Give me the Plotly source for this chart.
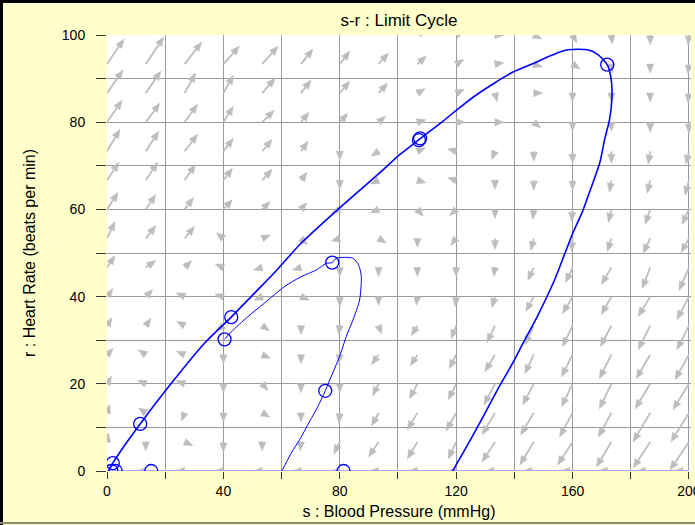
import math
import plotly.graph_objects as go

# ---------------- data ----------------
S_GRID = [0, 13.33, 26.67, 40, 53.33, 66.67, 80, 93.33, 106.67, 120, 133.33, 146.67, 160, 173.33, 186.67, 200]
R_GRID = [100, 93.33, 86.67, 80, 73.33, 66.67, 60, 53.33, 46.67, 40, 33.33, 26.67, 20, 13.33, 6.67, 0]

# direction field (screen components, right / up), rows follow R_GRID, columns follow S_GRID
FIELD_U = [
    [17, 18, 17, 16, 16, 12, 10, 9, 8, 6, 7, 6, 4, 1, 0, -1],
    [17, 18, 17, 16, 16, 12, 10, 10, 9, 7, 7, 6, 6, 1, 0, -1],
    [16, 15, 11, 10, 13, 10, 10, 9, 7, 7, 2, 8, 0, 0, 0, -1],
    [15, 14, 13, 10, 12, 8, 8, 7, 7, 7, 8, 6, 0, 0, 0, 0],
    [13, 13, 13, 10, 10, 7, 0, -6, 7, -7, -3, 0, 0, 0, -2, -3],
    [12, 12, 11, 9, 10, 6, 0, -7, 7, -7, 0, 0, 0, -2, -3, -4],
    [11, 10, 9, 9, 8, 5, -7, -7, 5, -5, 0, -1, -1, -3, -5, -7],
    [8, 10, 10, -6, 7, 5, -7, 7, 0, -5, 0, -3, -1, -4, -7, -8],
    [8, 10, 7, -7, -7, -7, 0, 0, 0, 0, -1, -6, -7, -10, -8, -10],
    [6, 7, -7, -7, -7, 7, 0, 0, -1, -1, -3, -8, -10, -10, -12, -12],
    [5, 5, -7, -6, 7, 0, -1, 3, -6, -5, -8, -9, -10, -11, -12, -12],
    [5, -6, -7, 0, 7, 0, -1, -7, -7, -7, -10, -9, -11, -12, -14, -14],
    [3, -7, -8, 0, 5, 0, 0, -6, -8, -8, -11, -11, -11, -12, -15, -16],
    [2, -6, -3, 0, 7, 0, -1, -7, -10, -10, -13, -13, -13, -13, -17, -18],
    [1, 0, 7, 0, 0, -1, -6, -10, -10, -8, -13, -14, -15, -15, -17, -19],
    [-3, -4, -5, -5, -6, -6, -6, -7, -8, -9, -10, -11, -12, -13, -14, -15],
]
FIELD_V = [
    [25, 27, 22, 18, 18, 15, 13, 11, 7, 3, 0, -3, -7, -9, -10, -10],
    [25, 27, 22, 18, 18, 15, 13, 11, 8, 4, 1, -2, -4, -8, -9, -10],
    [23, 22, 20, 18, 15, 13, 12, 10, 4, 3, -8, 0, -8, -9, -9, -10],
    [22, 19, 18, 16, 12, 10, 9, 6, 2, 0, 0, -5, -8, -9, -10, -11],
    [22, 20, 17, 13, 12, 10, -8, -4, 3, 2, -8, -10, -12, -12, -13, -13],
    [18, 18, 16, 12, 11, 8, -8, -3, -2, 2, -8, -10, -10, -12, -13, -15],
    [17, 15, 12, 10, 8, 6, -3, -3, -6, -5, -8, -10, -12, -13, -15, -15],
    [17, 13, 12, 5, 3, -5, -2, -4, -8, -6, -11, -12, -13, -13, -15, -14],
    [12, 7, 7, 3, -2, -2, -8, -8, -8, -8, -9, -13, -15, -17, -21, -23],
    [8, 7, 3, 2, -3, -3, -10, -8, -8, -10, -11, -15, -17, -18, -20, -23],
    [8, 7, 4, -4, -5, -8, -8, -8, -10, -13, -17, -19, -21, -21, -24, -24],
    [5, 4, 3, -8, -3, -9, -8, -10, -11, -14, -17, -19, -22, -24, -24, -25],
    [5, 3, 3, -8, -6, -9, -9, -12, -15, -16, -21, -21, -23, -25, -25, -26],
    [6, 4, -8, -9, -4, -8, -10, -13, -17, -18, -22, -22, -24, -24, -29, -29],
    [7, -8, -3, -10, -9, -9, -12, -15, -17, -17, -20, -23, -23, -25, -26, -28],
    [0, 0, 0, 0, 0, 0, 0, 0, 0, 0, 0, 0, 0, 0, 0, 0],
]

OUTER_S = [0.5, 2.0, 6.5, 11.4, 22.1, 33.5, 42.7, 50.7, 58.0, 66.2, 79.9, 93.6, 100.5, 107.4, 115.4, 121.1,
           127.0, 133.2, 139.5, 146.9, 153.0, 158.4, 165.2, 168.7, 171.9, 173.3, 173.5, 172.7, 171.0, 169.4,
           166.6, 163.4, 160.1, 157.3, 153.8, 148.0, 143.5, 139.3, 134.0, 128.0, 122.9, 119.1, 118.8]
OUTER_R = [0.0, 1.8, 6.3, 10.8, 20.1, 29.3, 35.3, 40.8, 45.8, 51.9, 60.3, 68.3, 72.5, 76.1, 80.2, 83.3,
           86.3, 89.0, 91.5, 93.6, 95.4, 96.6, 96.6, 95.5, 93.2, 89.7, 85.2, 80.6, 76.0, 70.8,
           65.4, 59.5, 54.6, 49.8, 43.8, 35.6, 30.0, 24.6, 18.4, 10.9, 4.8, 0.4, 0.0]
OUTER_MARK_S = [2.0, 11.4, 42.7, 107.2, 107.6, 171.9]
OUTER_MARK_R = [1.8, 10.8, 35.3, 75.9, 76.3, 93.2]

INNER_S = [40.4, 42.7, 48.4, 54.1, 61.0, 66.5, 71.9, 75.3, 77.4, 78.8, 84.5, 86.5, 87.4, 86.8, 84.5,
           82.2, 79.9, 77.0, 75.0, 72.4, 69.0, 66.5, 63.3, 60.4, 60.0]
INNER_R = [30.2, 31.9, 35.4, 38.5, 42.3, 44.5, 46.1, 47.6, 47.8, 48.8, 48.8, 47.2, 44.6, 39.2, 34.6,
           30.8, 26.2, 21.6, 18.4, 14.7, 10.6, 7.5, 4.1, 0.4, 0.0]
INNER_MARK_S = [40.4, 77.4, 75.0]
INNER_MARK_R = [30.2, 47.8, 18.4]

AXIS_S = [200, 0]
AXIS_R = [0, 0]
AXIS_MARK_S = [1.5, 3.0, 15.2, 81.3]
AXIS_MARK_R = [0, 0, 0, 0]

TITLE = "s-r : Limit Cycle"
X_TITLE = "s : Blood Pressure (mmHg)"
Y_TITLE = "r : Heart Rate (beats per min)"

# ---------------- layout geometry ----------------
W, H = 695, 525
ML, MR, MT, MB = 107, 4, 35, 54
XR = [0, 200.7]
YR = [0, 100]
PW, PH = W - ML - MR, H - MT - MB
KX = PW / (XR[1] - XR[0])   # px per s unit
KY = PH / (YR[1] - YR[0])   # px per r unit

ARROW_COL = "#bdbdbd"
HEAD_L, HEAD_W = 9.0, 3.6

shaft_x, shaft_y, head_x, head_y = [], [], [], []
for j, r0 in enumerate(R_GRID):
    for i, s0 in enumerate(S_GRID):
        u, v = FIELD_U[j][i], FIELD_V[j][i]
        L = math.hypot(u, v)
        if L == 0:
            continue
        ux, uy = u / L, v / L
        L = max(L, HEAD_L)
        tipx, tipy = ux * L, uy * L
        bx, by = tipx - ux * HEAD_L, tipy - uy * HEAD_L
        nx, ny = -uy, ux
        if L > HEAD_L + 0.5:
            shaft_x += [s0, s0 + bx / KX, None]
            shaft_y += [r0, r0 + by / KY, None]
        pts = [(tipx, tipy), (bx + nx * HEAD_W, by + ny * HEAD_W), (bx - nx * HEAD_W, by - ny * HEAD_W), (tipx, tipy)]
        for px, py in pts:
            head_x.append(s0 + px / KX)
            head_y.append(r0 + py / KY)
        head_x.append(None)
        head_y.append(None)

fig = go.Figure()
fig.add_trace(go.Scatter(x=shaft_x, y=shaft_y, mode="lines", line=dict(color=ARROW_COL, width=1.8),
                         hoverinfo="skip", showlegend=False))
fig.add_trace(go.Scatter(x=head_x, y=head_y, mode="lines", fill="toself", fillcolor=ARROW_COL,
                         line=dict(color=ARROW_COL, width=0.5), hoverinfo="skip", showlegend=False))

BLUE = "#0000ff"
fig.add_trace(go.Scatter(x=AXIS_S, y=AXIS_R, mode="lines", line=dict(color="#aaaaff", width=2),
                         hoverinfo="skip", showlegend=False))
fig.add_trace(go.Scatter(x=OUTER_S, y=OUTER_R, mode="lines",
                         line=dict(color=BLUE, width=1.6, shape="spline", smoothing=0.7),
                         showlegend=False))
fig.add_trace(go.Scatter(x=INNER_S, y=INNER_R, mode="lines",
                         line=dict(color=BLUE, width=1.0, shape="spline", smoothing=0.7),
                         showlegend=False))
mk = dict(symbol="circle-open", size=13, color=BLUE, line=dict(width=1.3, color=BLUE))
for xs, ys in [(OUTER_MARK_S, OUTER_MARK_R), (INNER_MARK_S, INNER_MARK_R), (AXIS_MARK_S, AXIS_MARK_R)]:
    fig.add_trace(go.Scatter(x=xs, y=ys, mode="markers", marker=mk, showlegend=False))

FONT = "Liberation Sans, Arial, sans-serif"
GRID = "#9a9a9a"
fig.update_xaxes(range=XR, tickmode="linear", tick0=0, dtick=40, ticks="outside", ticklen=7,
                 tickcolor="#333333", showgrid=True, gridcolor=GRID, gridwidth=1, zeroline=False,
                 showline=False, tickfont=dict(size=14, color="black", family=FONT),
                 ticklabeloverflow="allow",
                 minor=dict(dtick=20, ticks="outside", ticklen=7, tickcolor="#333333", showgrid=True,
                            gridcolor=GRID, gridwidth=1),
                 title=dict(text=X_TITLE, font=dict(size=16, color="black", family=FONT), standoff=8))
fig.update_yaxes(range=YR, tickmode="linear", tick0=0, dtick=20, ticks="outside", ticklen=10,
                 tickcolor="#333333", showgrid=True, gridcolor=GRID, gridwidth=1, zeroline=False,
                 showline=False, tickfont=dict(size=14, color="black", family=FONT), ticklabelstandoff=8,
                 minor=dict(dtick=10, ticks="outside", ticklen=10, tickcolor="#333333", showgrid=True,
                            gridcolor=GRID, gridwidth=1),
                 title=dict(text=Y_TITLE, font=dict(size=16, color="black", family=FONT), standoff=22))


def px2paper_x(px):
    return (px - ML) / PW


def px2paper_y(py):
    return (H - MB - py) / PH


shapes = [
    dict(type="line", xref="paper", yref="paper", x0=px2paper_x(0), x1=px2paper_x(W),
         y0=px2paper_y(1.5), y1=px2paper_y(1.5), line=dict(color="black", width=3)),
    dict(type="line", xref="paper", yref="paper", x0=px2paper_x(1.5), x1=px2paper_x(1.5),
         y0=px2paper_y(0), y1=px2paper_y(H), line=dict(color="black", width=3)),
    dict(type="line", xref="paper", yref="paper", x0=px2paper_x(0), x1=px2paper_x(W),
         y0=px2paper_y(H - 2), y1=px2paper_y(H - 2), line=dict(color="#8c8c6e", width=2)),
]

fig.update_layout(
    width=W, height=H, margin=dict(l=ML, r=MR, t=MT, b=MB, autoexpand=False),
    paper_bgcolor="#ffffcc", plot_bgcolor="white",
    font=dict(family=FONT, color="black"),
    title=dict(text=TITLE, x=399 / W, xanchor="center", y=1 - 20 / H, yanchor="middle",
               yref="container", xref="container", font=dict(size=17, color="black", family=FONT)),
    shapes=shapes, showlegend=False,
)

fig.write_html("out.html", config={"displayModeBar": False},
               post_script="document.body.style.margin='0px';document.body.style.overflow='hidden';")
